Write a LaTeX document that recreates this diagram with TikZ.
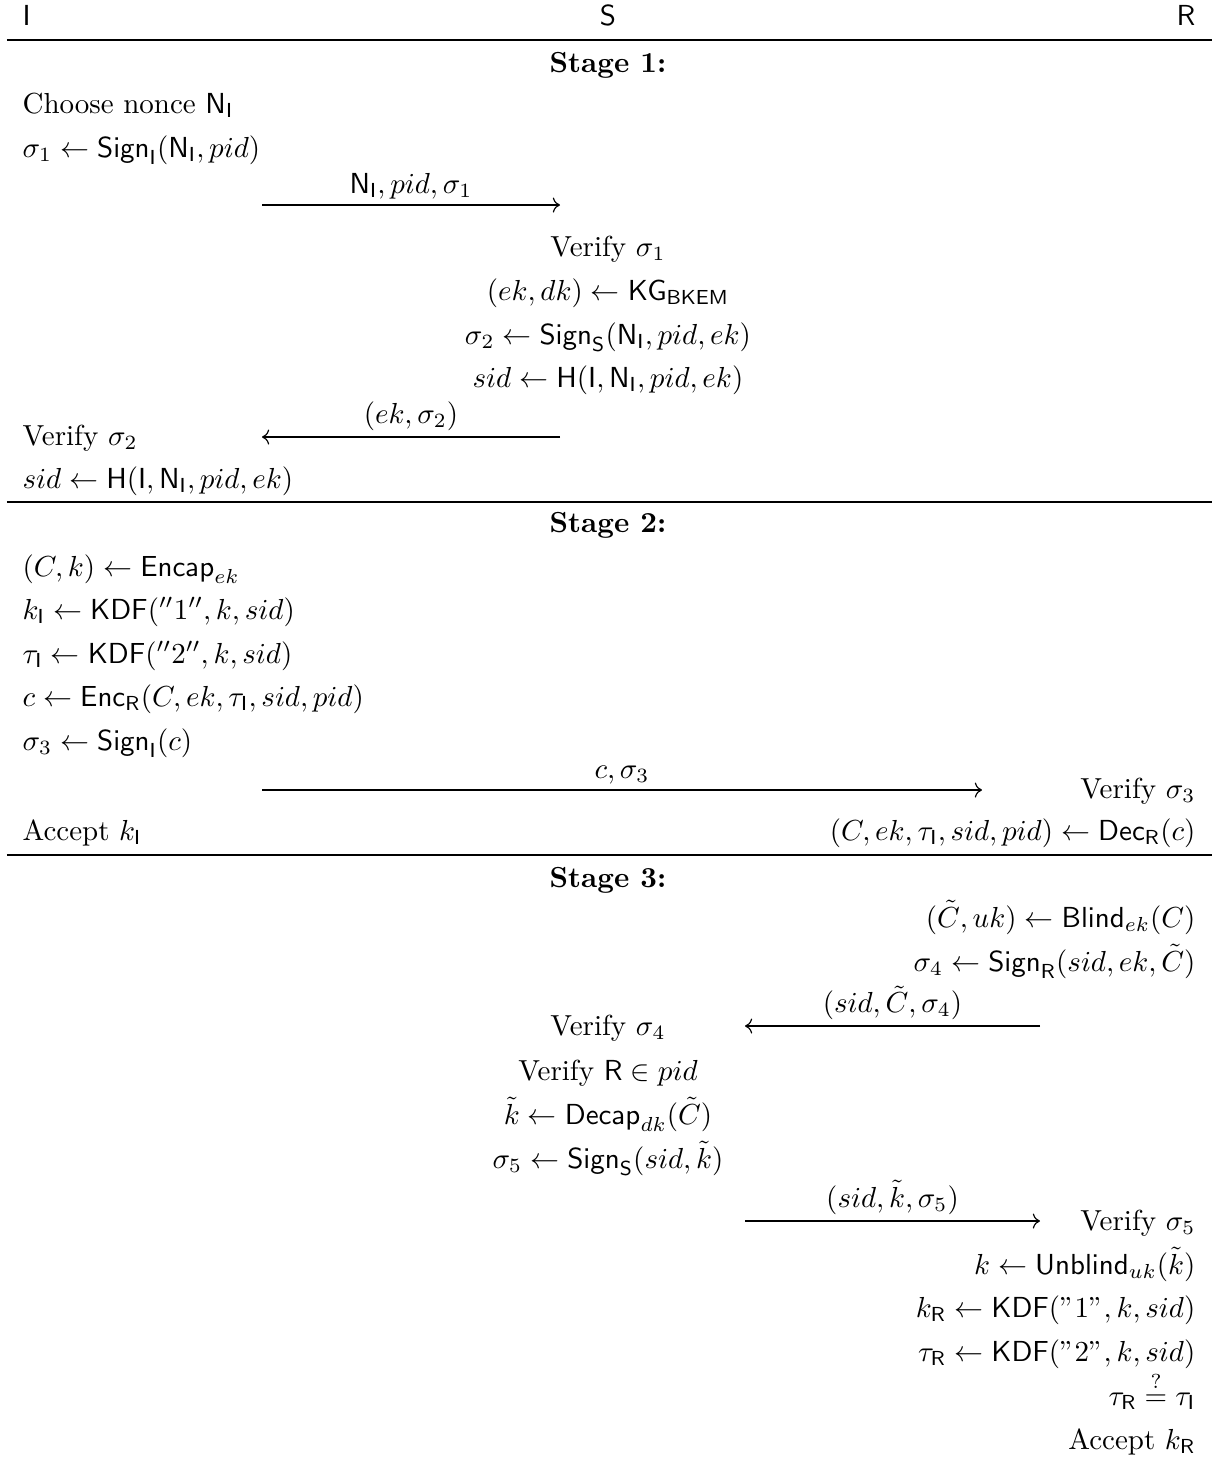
\documentclass[tikz,border=0pt]{standalone}
\usepackage{amsmath}
\usepackage{amssymb}
\usepackage{tikz}
\usetikzlibrary{arrows.meta, positioning}
\newcommand{\Sign}{\mathsf{Sign}}
\newcommand{\KDF}{\mathsf{KDF}}
\newcommand{\Hash}{\mathsf{H}}
\newcommand{\NI}{\mathsf{N}_{\mathsf{I}}}
\newcommand{\pI}{\mathsf{I}}
\newcommand{\pS}{\mathsf{S}}
\newcommand{\pR}{\mathsf{R}}
\tikzset{
  lft/.style={anchor=base west, inner sep=0pt},
  mid/.style={anchor=base, inner sep=0pt},
  rgt/.style={anchor=base east, inner sep=0pt},
  msg/.style={->},
  lbl/.style={above, inner sep=2pt},
  hrule/.style={line width=0.5pt}
}

\begin{document}
\begin{tikzpicture}[x=0.345pt, y=-0.345pt]
    \useasboundingbox (0,0) rectangle (1214,1459);
    % Parties
    \node[lft] (hI) at (22,25) {$\pI$}; \node[mid] (hS) at (608,25) {$\pS$}; \node[rgt] (hR) at (1196,25) {$\pR$};
    \draw[hrule] (7,40) -- (1212,40);

    % Stage 1
    \node[mid] (st1) at (608,72) {\textbf{Stage 1:}};
    \node[lft] (i1) at (22,113) {Choose nonce $\NI$};
    \node[lft] (i2) at (22,157) {$\sigma_1 \leftarrow \Sign_{\pI}(\NI, pid)$};
    \coordinate (m1a) at (262,205); \coordinate (m1b) at (560,205);
    \draw[msg] (m1a) -- node[lbl] (l1) {$\NI, pid, \sigma_1$} (m1b);
    \node[mid] (s1) at (608,256) {Verify $\sigma_1$};
    \node[mid] (s2) at (608,300) {$(ek, dk) \leftarrow \mathsf{KG}_{\mathsf{BKEM}}$};
    \node[mid] (s3) at (608,344) {$\sigma_2 \leftarrow \Sign_{\pS}(\NI, pid, ek)$};
    \node[mid] (s4) at (608,387) {$sid \leftarrow \Hash(\pI, \NI, pid, ek)$};
    \coordinate (m2a) at (560,437); \coordinate (m2b) at (262,437);
    \draw[msg] (m2a) -- node[lbl] (l2) {$(ek, \sigma_2)$} (m2b);
    \node[lft] (i3) at (22,445) {Verify $\sigma_2$};
    \node[lft] (i4) at (22,488) {$sid \leftarrow \Hash(\pI, \NI, pid, ek)$};
    \draw[hrule] (7,502) -- (1212,502);

    % Stage 2
    \node[mid] (st2) at (608,532) {\textbf{Stage 2:}};
    \node[lft] (i5) at (22,576) {$(C, k) \leftarrow \mathsf{Encap}_{ek}$};
    \node[lft] (i6) at (22,619) {$k_{\pI} \leftarrow \KDF(''1'', k, sid)$};
    \node[lft] (i7) at (22,663) {$\tau_{\pI} \leftarrow \KDF(''2'', k, sid)$};
    \node[lft] (i8) at (22,706) {$c \leftarrow \mathsf{Enc}_{\pR}(C, ek, \tau_{\pI}, sid, pid)$};
    \node[lft] (i9) at (22,750) {$\sigma_3 \leftarrow \Sign_{\pI}(c)$};
    \coordinate (m3a) at (262,790); \coordinate (m3b) at (982,790);
    \draw[msg] (m3a) -- node[lbl] (l3) {$c, \sigma_3$} (m3b);
    \node[rgt] (r1) at (1196,798) {Verify $\sigma_3$};
    \node[lft] (i10) at (22,840) {Accept $k_{\pI}$};
    \node[rgt] (r2) at (1196,840) {$(C, ek, \tau_{\pI}, sid, pid) \leftarrow \mathsf{Dec}_{\pR}(c)$};
    \draw[hrule] (7,855) -- (1212,855);

    % Stage 3
    \node[mid] (st3) at (608,887) {\textbf{Stage 3:}};
    \node[rgt] (r3) at (1196,927) {$(\tilde{C}, uk) \leftarrow \mathsf{Blind}_{ek}(C)$};
    \node[rgt] (r4) at (1196,971) {$\sigma_4 \leftarrow \Sign_{\pR}(sid, ek, \tilde{C})$};
    \coordinate (m4a) at (1040,1026); \coordinate (m4b) at (745,1026);
    \draw[msg] (m4a) -- node[lbl] (l4) {$(sid, \tilde{C}, \sigma_4)$} (m4b);
    \node[mid] (s5) at (608,1035) {Verify $\sigma_4$};
    \node[mid] (s6) at (608,1080) {Verify $\pR \in pid$};
    \node[mid] (s7) at (608,1124) {$\tilde{k} \leftarrow \mathsf{Decap}_{dk}(\tilde{C})$};
    \node[mid] (s8) at (608,1168) {$\sigma_5 \leftarrow \Sign_{\pS}(sid, \tilde{k})$};
    \coordinate (m5a) at (745,1221); \coordinate (m5b) at (1040,1221);
    \draw[msg] (m5a) -- node[lbl] (l5) {$(sid, \tilde{k}, \sigma_5)$} (m5b);
    \node[rgt] (r5) at (1196,1230) {Verify $\sigma_5$};
    \node[rgt] (r6) at (1196,1274) {$k \leftarrow \mathsf{Unblind}_{uk}(\tilde{k})$};
    \node[rgt] (r7) at (1196,1317) {$k_{\pR} \leftarrow \KDF("1", k, sid)$};
    \node[rgt] (r8) at (1196,1361) {$\tau_{\pR} \leftarrow \KDF("2", k, sid)$};
    \node[rgt] (r9) at (1196,1405) {$\tau_{\pR} \stackrel{?}{=} \tau_{\pI}$};
    \node[rgt] (r10) at (1196,1449) {Accept $k_{\pR}$};
\end{tikzpicture}
\end{document}
